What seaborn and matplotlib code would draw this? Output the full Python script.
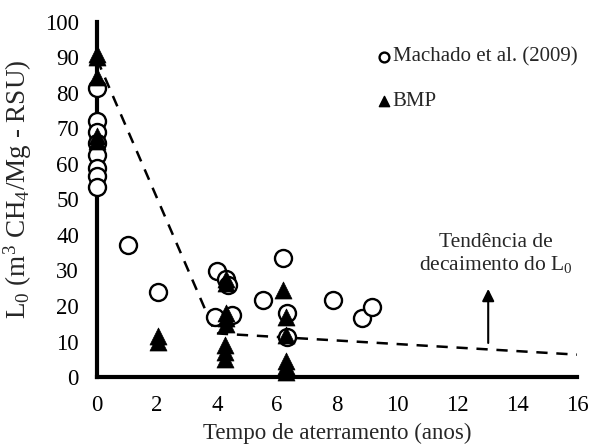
import matplotlib
matplotlib.use("Agg")
import matplotlib.pyplot as plt
import seaborn as sns
import pandas as pd

# Machado et al. (2009)
machado_x = [0, 0, 0, 0, 0, 0, 0, 0, 1.02, 2.02, 4.0, 4.3, 4.37, 3.93, 4.5,
             5.54, 6.19, 6.34, 6.34, 7.88, 8.82, 9.16]
machado_y = [81.5, 72, 69, 66, 62.5, 59, 56.5, 53.5, 37.2, 23.9, 29.9, 27.6, 25.9, 16.8, 17.5,
             21.7, 33.4, 17.9, 11.4, 21.7, 16.7, 19.6]

# BMP
bmp_x = [0, 0, 0, 0, 0, 2.02, 2.02, 4.3, 4.3, 4.3, 4.3, 4.3, 4.25, 4.25, 4.25,
         6.2, 6.3, 6.3, 6.3, 6.3, 6.3]
bmp_y = [91, 90, 84.5, 68, 66.5, 10, 11.5, 27.5, 26.5, 18, 16.5, 15, 9, 7, 5,
         24.5, 17, 11.8, 1.5, 3, 4.5]

# Trend line
trend_x = [0, 3.95, 16]
trend_y = [89.5, 12.3, 6.3]

x_ticks = [0, 2, 4, 6, 8, 10, 12, 14, 16]
y_ticks = [0, 10, 20, 30, 40, 50, 60, 70, 80, 90, 100]

sns.set_style("white")
plt.rcParams["font.family"] = ["Liberation Serif", "DejaVu Serif"]
plt.rcParams["mathtext.fontset"] = "custom"
plt.rcParams["mathtext.rm"] = "Liberation Serif"
plt.rcParams["mathtext.it"] = "Liberation Serif:italic"

fig = plt.figure(figsize=(5.94, 4.45), dpi=100)
ax = fig.add_axes([0.1633, 0.1528, 0.8081, 0.7978])

df_m = pd.DataFrame({"x": machado_x, "y": machado_y})
df_b = pd.DataFrame({"x": bmp_x, "y": bmp_y})
df_t = pd.DataFrame({"x": trend_x, "y": trend_y})

sns.lineplot(data=df_t, x="x", y="y", ax=ax, color="black", lw=1.8,
             linestyle=(0, (4.5, 3.5)), sort=False, zorder=1)
sns.scatterplot(data=df_m, x="x", y="y", ax=ax, marker="o", s=150,
                facecolor="white", edgecolor="black", linewidth=1.7,
                clip_on=False, zorder=3)
sns.scatterplot(data=df_b, x="x", y="y", ax=ax, marker="^", s=150,
                color="black", edgecolor="black", linewidth=0.5,
                clip_on=False, zorder=4)

ax.set_xlim(0, 16)
ax.set_ylim(0, 100)
ax.set_xticks(x_ticks)
ax.set_yticks(y_ticks)
ax.tick_params(axis="both", labelsize=16.5, length=5, width=2, direction="out",
               colors="black")
ax.tick_params(axis="y", pad=8)
ax.tick_params(axis="x", pad=8)
for s in ["top", "right"]:
    ax.spines[s].set_visible(False)
for s in ["left", "bottom"]:
    ax.spines[s].set_linewidth(3)
    ax.spines[s].set_color("black")

ax.set_xlabel("Tempo de aterramento (anos)", fontsize=16.5, labelpad=5)
ax.set_ylabel(r"L$_0$ (m$^3$ CH$_4$/Mg - RSU)", fontsize=19.5)
ax.yaxis.set_label_coords(-0.131, 0.53)

# Legend (manual)
ax.scatter([9.55], [90.1], marker="o", s=50, facecolor="white", edgecolor="black",
           linewidth=1.7, zorder=5)
ax.text(9.85, 90.1, "Machado et al. (2009)", fontsize=15, va="center", ha="left")
ax.scatter([9.55], [77.7], marker="^", s=55, color="black", zorder=5)
ax.text(9.85, 77.7, "BMP", fontsize=15, va="center", ha="left")

# Annotation
ax.text(13.3, 34.6, "Tendência de\ndecaimento do L$_0$", fontsize=15.5, ha="center",
        va="center", linespacing=1.15)
ax.annotate("", xy=(13.04, 25.6), xytext=(13.04, 8.8),
            arrowprops=dict(arrowstyle="-|>", color="black", lw=1.5,
                            mutation_scale=18))

fig.savefig("out.png", dpi=100)
